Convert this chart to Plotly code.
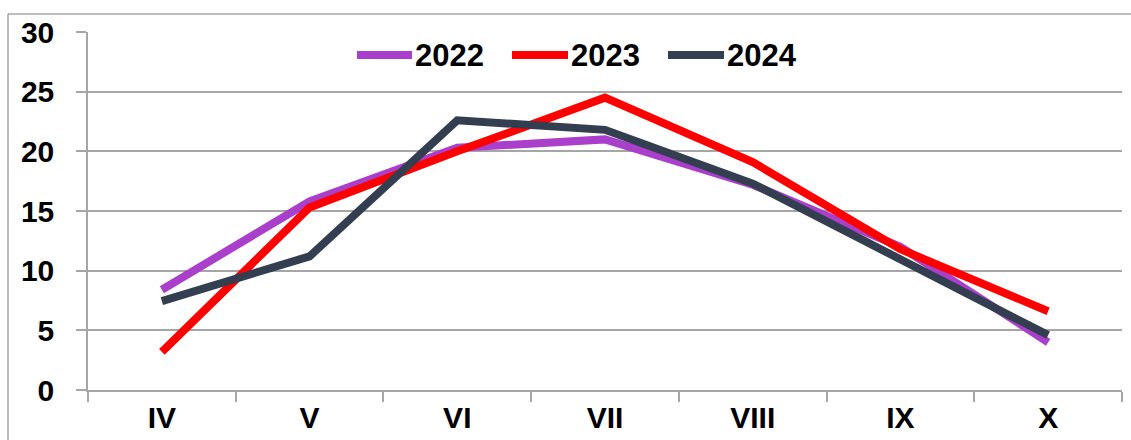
import plotly.graph_objects as go

# Months (Roman numerals) and the yearly series
months = ["IV", "V", "VI", "VII", "VIII", "IX", "X"]
years = ["2022", "2023", "2024"]
values_2022 = [8.4, 15.8, 20.3, 21.0, 17.2, 12.0, 4.0]
values_2023 = [3.2, 15.3, 20.0, 24.5, 19.1, 11.8, 6.6]
values_2024 = [7.45, 11.2, 22.6, 21.8, 17.3, 11.0, 4.6]
y_ticks = [0, 5, 10, 15, 20, 25, 30]

series = [values_2022, values_2023, values_2024]
colors = ["#A93FCB", "#FF0000", "#333F50"]

fig = go.Figure()
for name, vals, col in zip(years, series, colors):
    fig.add_trace(go.Scatter(
        x=months, y=vals, name=name, mode="lines",
        line=dict(color=col, width=8), showlegend=False,
    ))

grid = "#A6A6A6"
family = "Liberation Sans, Arial, sans-serif"

# Plot-area geometry in pixels, used to place the legend and frame
W, H = 1131, 440
ML, MR, MT, MB = 88, 9, 32, 50
PW, PH = W - ML - MR, H - MT - MB


def px_x(p):
    return (p - ML) / PW


def px_y(p):
    return (H - MB - p) / PH


fig.update_layout(
    width=W, height=H,
    margin=dict(l=ML, r=MR, t=MT, b=MB),
    paper_bgcolor="white", plot_bgcolor="white",
    font=dict(family=family, size=30, color="#000000"),
    showlegend=False,
    xaxis=dict(
        type="category", tickson="boundaries", ticks="outside", ticklen=10,
        tickcolor=grid, tickwidth=1.5, showline=True, linecolor=grid, linewidth=1.5,
        showgrid=False, range=[-0.5, 6.5], automargin=False,
        tickfont=dict(family=family, size=30, color="#000000", weight="bold"),
        ticklabelstandoff=0,
    ),
    yaxis=dict(
        range=[0, 30], tickvals=y_ticks, ticks="outside", ticklen=10,
        tickcolor=grid, tickwidth=1.5, showline=True, linecolor=grid, linewidth=1.5,
        showgrid=True, gridcolor=grid, gridwidth=1.5, zeroline=False, automargin=False,
        tickfont=dict(family=family, size=30, color="#000000", weight="bold"),
        ticklabelstandoff=16,
    ),
)

# Legend: a line sample followed by the series name, centred near the top
legend_line_x = [(357, 412), (512, 568), (668, 724)]
legend_y = 55
for (x0, x1), name, col in zip(legend_line_x, years, colors):
    fig.add_shape(type="line", xref="paper", yref="paper",
                  x0=px_x(x0), x1=px_x(x1), y0=px_y(legend_y), y1=px_y(legend_y),
                  line=dict(color=col, width=8))
    fig.add_annotation(xref="paper", yref="paper", x=px_x(x1 + 1), y=px_y(legend_y),
                       xanchor="left", yanchor="middle", showarrow=False, text=name,
                       font=dict(family=family, size=31, color="#000000", weight="bold"))

# Chart frame lines (top and left edges)
frame = dict(color=grid, width=1.5)
fig.add_shape(type="line", xref="paper", yref="paper",
              x0=px_x(8), x1=px_x(W + 5), y0=px_y(14), y1=px_y(14), line=frame)
fig.add_shape(type="line", xref="paper", yref="paper",
              x0=px_x(8), x1=px_x(8), y0=px_y(14), y1=px_y(H + 5), line=frame)

fig.write_html("out.html")
